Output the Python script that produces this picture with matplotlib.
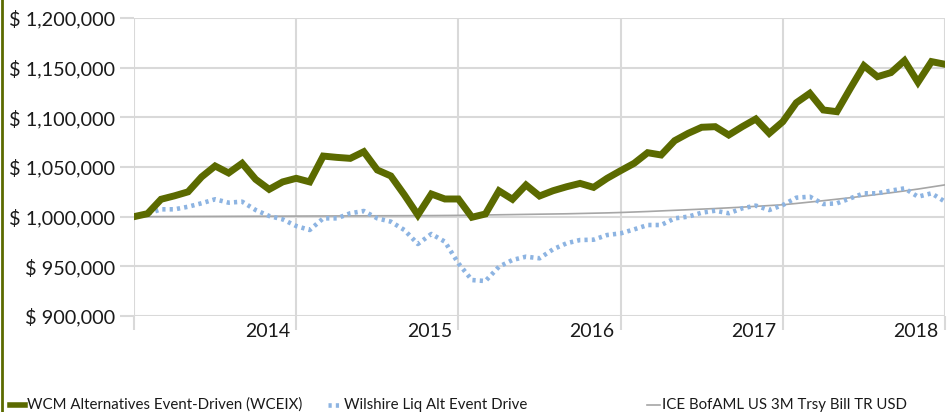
import matplotlib
matplotlib.use('Agg')
import matplotlib.pyplot as plt
from matplotlib.lines import Line2D

plt.rcParams['font.family'] = ['Lato', 'DejaVu Sans']

# monthly growth of $1,000,000, Jan 2013 .. Jan 2018
months = list(range(61))
wceix = [
    1000000, 1003000, 1017500, 1021000, 1025000, 1040000, 1051000, 1044000, 1053700, 1037600,
    1027500, 1035000, 1038600, 1035000, 1061000, 1059700, 1058700, 1065400, 1047000, 1041000,
    1022000, 1001700, 1022800, 1017800, 1017800, 999400, 1002700, 1026000, 1017500, 1031900,
    1020800, 1026100, 1030100, 1033500, 1029500, 1038600, 1046300, 1053700, 1064400, 1062100,
    1076500, 1083900, 1090000, 1090600, 1082200, 1090600, 1098300, 1083900, 1095600, 1114700,
    1124200, 1107400, 1105700, 1129200, 1152000, 1140900, 1145000, 1157100, 1135300, 1156100,
    1153400,
]
wilshire = [
    1000000, 1003000, 1007400, 1007400, 1010000, 1013500, 1017500, 1014100, 1015100, 1006700,
    1000700, 997300, 990600, 986600, 998300, 998300, 1003400, 1005700, 998300, 995000,
    986600, 972500, 982600, 974800, 953000, 936200, 935200, 949600, 956400, 959700,
    958100, 967100, 973200, 976500, 976800, 981500, 983200, 987200, 991600, 991600,
    998300, 1000000, 1004000, 1006000, 1003400, 1008400, 1011100, 1006700, 1011700, 1019100,
    1020100, 1012700, 1013400, 1018500, 1023500, 1023500, 1026200, 1028500, 1020100, 1023500,
    1015100,
]
tbill = [
    1000000, 1000050, 1000100, 1000150, 1000200, 1000250, 1000300, 1000350, 1000400, 1000450,
    1000500, 1000550, 1000600, 1000650, 1000700, 1000750, 1000800, 1000850, 1000900, 1000950,
    1001000, 1001050, 1001100, 1001200, 1001300, 1001500, 1001700, 1001900, 1002100, 1002300,
    1002500, 1002700, 1002900, 1003200, 1003500, 1003800, 1004200, 1004700, 1005200, 1005800,
    1006400, 1007000, 1007600, 1008200, 1008900, 1009600, 1010400, 1011200, 1012000, 1013300,
    1014700, 1016100, 1017600, 1019100, 1020700, 1022400, 1024100, 1025900, 1027800, 1029900,
    1032000,
]
year_ticks = [0, 12, 24, 36, 48, 60]
year_labels = ['2014', '2015', '2016', '2017', '2018']
y_ticks = [900000, 950000, 1000000, 1050000, 1100000, 1150000, 1200000]
legend_labels = ['WCM Alternatives Event-Driven (WCEIX)', 'Wilshire Liq Alt Event Drive',
                 'ICE BofAML US 3M Trsy Bill TR USD']

GREEN = '#5b6a00'
BLUE = '#8db4e2'
GRAY = '#a6a6a6'
GRID = '#d9d9d9'

W, H = 953, 412
fig = plt.figure(figsize=(W / 100, H / 100), dpi=100)
ax = fig.add_axes([134 / W, 1 - 316 / H, (945 - 134) / W, (316 - 18) / H])

ax.plot(months, tbill, color=GRAY, lw=1.2, zorder=3)
ax.plot(months, wilshire, color=BLUE, lw=3.3, ls=(0, (0.7, 0.9)), zorder=4)
ax.plot(months, wceix, color=GREEN, lw=5, solid_joinstyle='miter', zorder=5)

ax.set_xlim(0, 60)
ax.set_ylim(900000, 1200000)
ax.set_xticks(year_ticks)
ax.set_xticklabels([])
ax.set_yticks(y_ticks)
ax.set_yticklabels([f'$ {v:,.0f}' for v in y_ticks], fontsize=14.3, color='#1a1a1a')
ax.tick_params(axis='both', length=10, width=1.5, color=GRID, pad=3.5)
ax.grid(True, color=GRID, lw=1.5, zorder=0)
for s in ax.spines.values():
    s.set_visible(False)

for k, lab in enumerate(year_labels):
    ax.annotate(lab, xy=(year_ticks[k + 1], 0), xycoords=('data', 'axes fraction'),
                xytext=(-4.5, -11), textcoords='offset points',
                ha='right', va='center', fontsize=14, color='#1a1a1a')

# left accent bar
fig.add_artist(Line2D([2 / W, 2 / W], [0, 1], transform=fig.transFigure, color=GREEN, lw=2))

# legend along the bottom edge
ly = 1 - 405 / H
styles = [dict(color=GREEN, lw=4), dict(color=BLUE, lw=3.3, ls=(0, (0.7, 0.9))),
          dict(color=GRAY, lw=1.2)]
marks = [(10, 25), (328, 342), (647, 660)]
for (x0, x1), st, lab in zip(marks, styles, legend_labels):
    fig.add_artist(Line2D([x0 / W, x1 / W], [ly, ly], transform=fig.transFigure, **st))
    fig.text((x1 + 2) / W, ly, lab, ha='left', va='center', fontsize=10.8, color='#1a1a1a')

fig.savefig('out.png', dpi=100)
